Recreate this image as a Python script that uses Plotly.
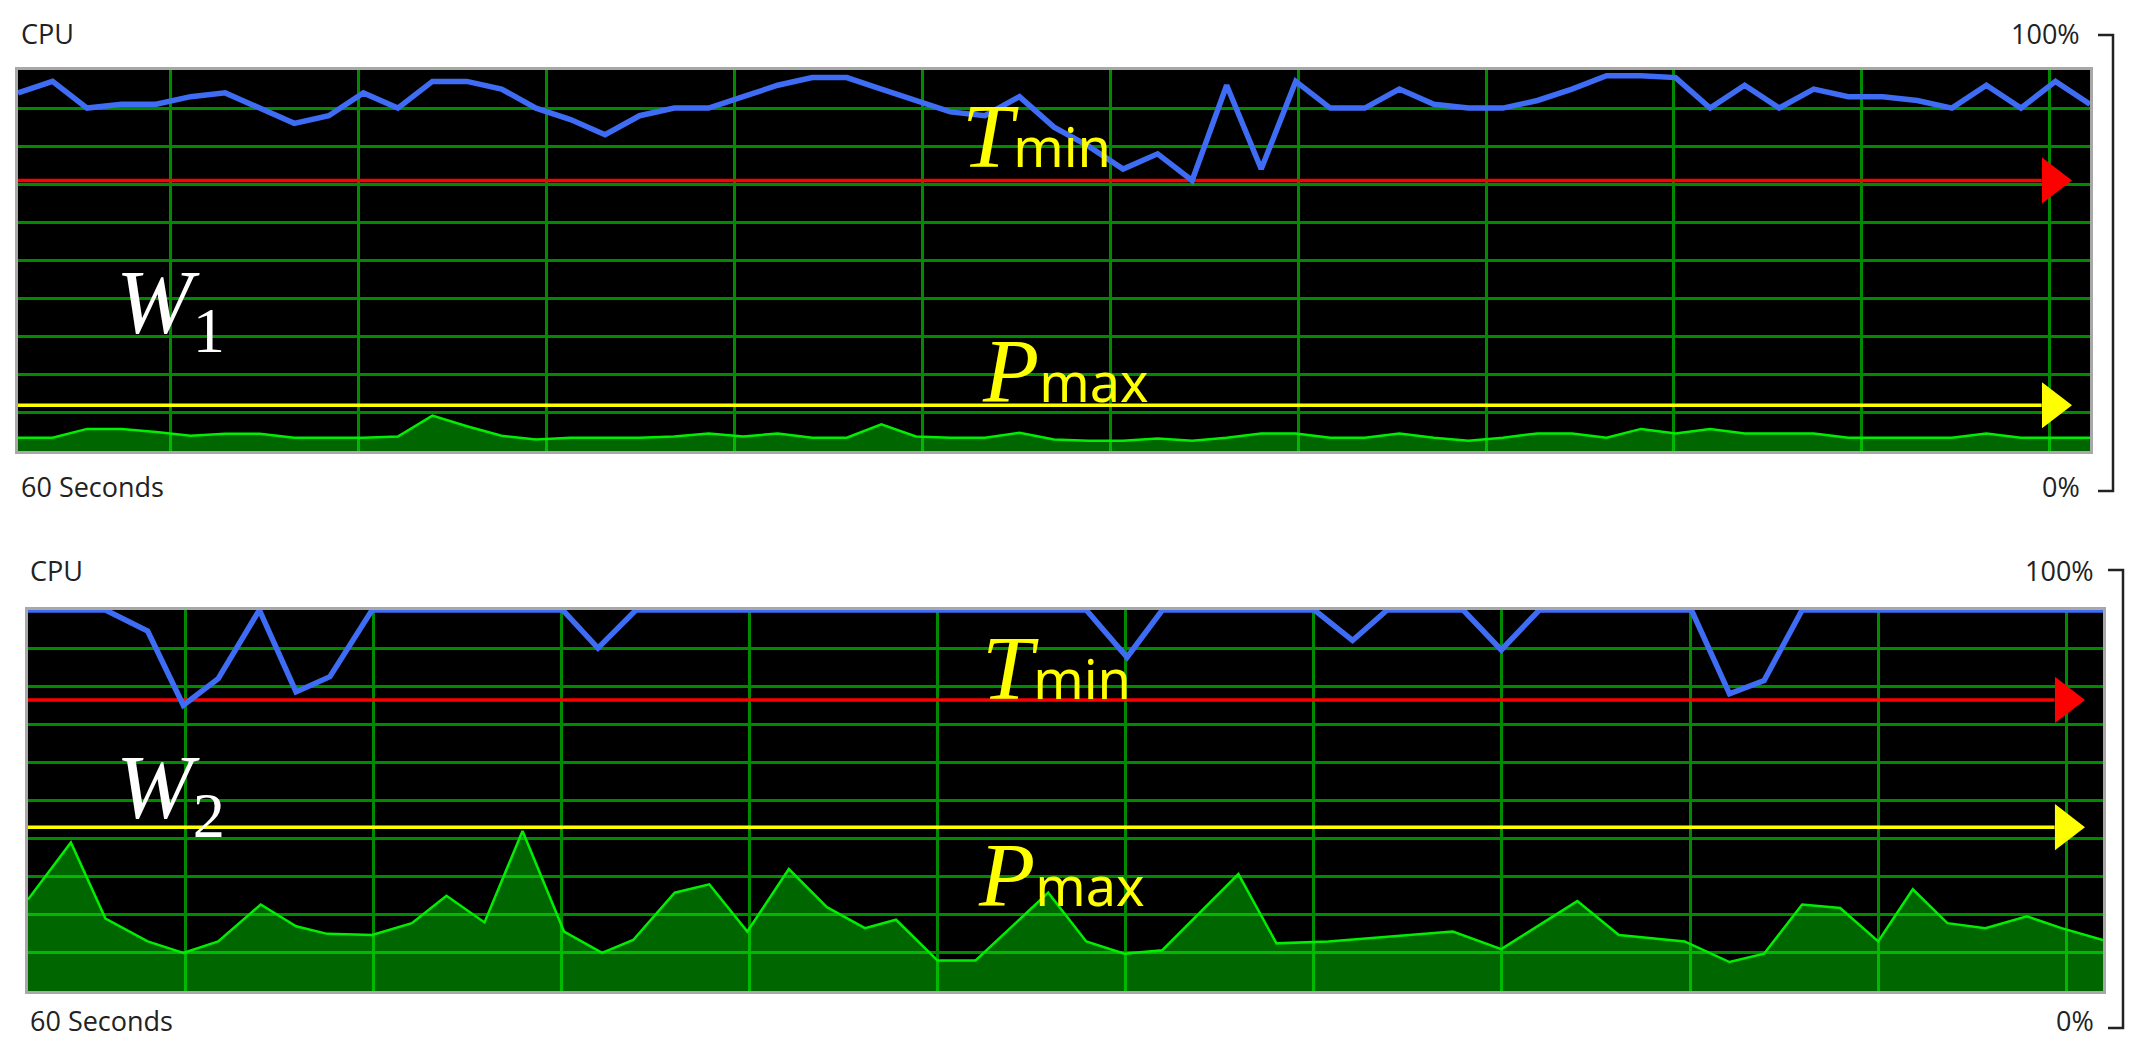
import plotly.graph_objects as go

W, H = 2133, 1042

# ---- data (seconds, percent) ----
top_t = list(range(61))
top_cpu = [94, 97, 90, 91, 91, 93, 94, 90, 86, 88, 94, 90, 97, 97, 95, 90, 87, 83, 88, 90,
           90, 93, 96, 98, 98, 95, 92, 89, 88, 93, 85, 80, 74, 78, 71, 96, 74, 97, 90, 90,
           95, 91, 90, 90, 92, 95, 98.5, 98.5, 98, 90, 96, 90, 95, 93, 93, 92, 90, 96, 90, 97, 91]
top_load = [3.5, 3.5, 5.8, 5.8, 5, 4, 4.5, 4.5, 3.5, 3.5, 3.5, 3.8, 9.3, 6.5, 4, 3, 3.5, 3.5, 3.5, 3.8,
            4.6, 3.8, 4.6, 3.5, 3.5, 7, 3.8, 3.5, 3.5, 4.8, 3, 2.7, 2.7, 3.3, 2.7, 3.5, 4.6, 4.6, 3.5, 3.5,
            4.6, 3.5, 2.7, 3.5, 4.6, 4.6, 3.5, 5.8, 4.6, 5.8, 4.6, 4.6, 4.6, 3.5, 3.5, 3.5, 3.5, 4.6, 3.5, 3.5, 3.5]
top_tmin = 71
top_pmax = 12

bot_cpu_t = [0, 2.24, 3.46, 4.49, 5.5, 6.69, 7.75, 8.73, 9.95, 15.46, 16.48, 17.58, 30.6, 31.78,
             32.8, 37.2, 38.3, 39.3, 41.5, 42.6, 43.7, 48.1, 49.2, 50.2, 51.3, 60]
bot_cpu = [100, 100, 94.5, 75, 82, 100, 78.5, 82.5, 100, 100, 90, 100, 100, 87.6,
           100, 100, 92, 100, 100, 89.5, 100, 100, 78, 81.5, 100, 100]
bot_load_t = [0, 1.24, 2.24, 3.46, 4.49, 5.5, 6.73, 7.75, 8.65, 9.95, 11.1, 12.1, 13.2, 14.3, 15.5,
              16.6, 17.5, 18.7, 19.7, 20.8, 22.0, 23.1, 24.2, 25.1, 26.3, 27.4, 29.5,
              30.6, 31.7, 32.8, 35.0, 36.1, 37.6, 39.8, 41.2, 42.6, 44.8, 46.0, 47.9, 49.2, 50.2,
              51.3, 52.4, 53.5, 54.5, 55.5, 56.6, 57.8, 58.8, 60]
bot_load = [24, 39, 19, 13, 10, 13, 22.7, 17, 15, 14.7, 17.8, 25, 18, 42, 15.6,
            10, 13.4, 25.8, 28, 15.6, 32, 22, 16.5, 18.7, 8, 8, 25.8,
            13, 9.8, 10.7, 30.7, 12.5, 13, 14.7, 15.6, 11, 23.6, 14.7, 13, 7.6, 9.8,
            22.7, 21.8, 13, 26.7, 17.8, 16.5, 19.6, 16.5, 13.4]
bot_tmin = 76.4
bot_pmax = 43


def px(x):
    return x / W


def py(y):
    return 1 - y / H


fig = go.Figure()

panels = [
    dict(xa='x', ya='y', cpu=top_t, cpuv=top_cpu, lt=top_t, lv=top_load,
         tmin=top_tmin, pmax=top_pmax),
    dict(xa='x2', ya='y2', cpu=bot_cpu_t, cpuv=bot_cpu, lt=bot_load_t, lv=bot_load,
         tmin=bot_tmin, pmax=bot_pmax),
]

for p in panels:
    fig.add_trace(go.Scatter(x=p['lt'], y=p['lv'], xaxis=p['xa'], yaxis=p['ya'], mode='lines',
                             line=dict(color='#00ee00', width=2.5), fill='tozeroy',
                             fillcolor='rgba(0,255,0,0.4)', hoverinfo='skip'))
    for lvl, col in [(p['tmin'], '#ff0000'), (p['pmax'], '#ffff00')]:
        fig.add_trace(go.Scatter(x=[0, 58.6], y=[lvl, lvl], xaxis=p['xa'], yaxis=p['ya'],
                                 mode='lines', line=dict(color=col, width=3.5), hoverinfo='skip'))
        fig.add_trace(go.Scatter(x=[58.9], y=[lvl], xaxis=p['xa'], yaxis=p['ya'], mode='markers',
                                 marker=dict(symbol='triangle-right', size=40, color=col,
                                             line=dict(width=0)), hoverinfo='skip'))
    fig.add_trace(go.Scatter(x=p['cpu'], y=p['cpuv'], xaxis=p['xa'], yaxis=p['ya'], mode='lines',
                             line=dict(color='#3f6cf5', width=5.5), hoverinfo='skip'))

grid = dict(showgrid=True, gridcolor='#008a00', gridwidth=3, zeroline=False, showticklabels=False,
            ticks='', showline=True, linecolor='#a8a8a8', linewidth=3, mirror=True)
fig.update_layout(
    width=W, height=H, showlegend=False, paper_bgcolor='white', plot_bgcolor='black',
    margin=dict(l=0, r=0, t=0, b=0),
    xaxis=dict(domain=[px(10), px(2082)], range=[0, 60], tick0=4.43, dtick=5.44, anchor='y', **grid),
    yaxis=dict(domain=[py(443), py(62)], range=[0, 100], dtick=10, anchor='x', **grid),
    xaxis2=dict(domain=[px(20), px(2095)], range=[0, 60], tick0=4.54, dtick=5.44, anchor='y2', **grid),
    yaxis2=dict(domain=[py(983), py(602)], range=[0, 100], dtick=10, anchor='x2', **grid),
)

txt = dict(family='Open Sans, Noto Sans', size=27, color='#222222')
for x0, x1, y0, y1 in [(11, 2074, 25, 478), (20, 2088, 562, 1012)]:
    fig.add_annotation(text='CPU', x=px(x0), y=py(y0), xref='paper', yref='paper',
                       xanchor='left', yanchor='middle', showarrow=False, font=txt)
    fig.add_annotation(text='60 Seconds', x=px(x0), y=py(y1), xref='paper', yref='paper',
                       xanchor='left', yanchor='middle', showarrow=False, font=txt)
    fig.add_annotation(text='100%', x=px(x1), y=py(y0), xref='paper', yref='paper',
                       xanchor='right', yanchor='middle', showarrow=False, font=txt)
    fig.add_annotation(text='0%', x=px(x1), y=py(y1), xref='paper', yref='paper',
                       xanchor='right', yanchor='middle', showarrow=False, font=txt)

for xa, xb, ya, yb in [(2090, 2105, 27, 483), (2100, 2115, 562, 1020)]:
    fig.add_shape(type='path', xref='paper', yref='paper',
                  path=f'M {px(xa)} {py(ya)} L {px(xb)} {py(ya)} L {px(xb)} {py(yb)} L {px(xa)} {py(yb)}',
                  line=dict(color='#222222', width=2.5))

serif = 'Liberation Serif, DejaVu Serif'
sans = 'Noto Sans, Open Sans'


def label(letter, sub, x, y, color, subscript=False):
    if subscript:
        s = f"<i>{letter}</i><sub><span style='font-family:{serif}'>{sub}</span></sub>"
    else:
        s = f"<i>{letter}</i><span style='font-family:{sans};font-size:54px'>{sub}</span>"
    fig.add_annotation(text=s, x=px(x), y=py(y), xref='paper', yref='paper', xanchor='left',
                       yanchor='middle', showarrow=False, font=dict(family=serif, size=92, color=color))


label('T', 'min', 952, 128, '#ffff00')
label('P', 'max', 972, 363, '#ffff00')
label('W', '1', 106, 300, 'white', subscript=True)
label('T', 'min', 972, 660, '#ffff00')
label('P', 'max', 968, 867, '#ffff00')
label('W', '2', 106, 785, 'white', subscript=True)

fig.write_html('out.html')
